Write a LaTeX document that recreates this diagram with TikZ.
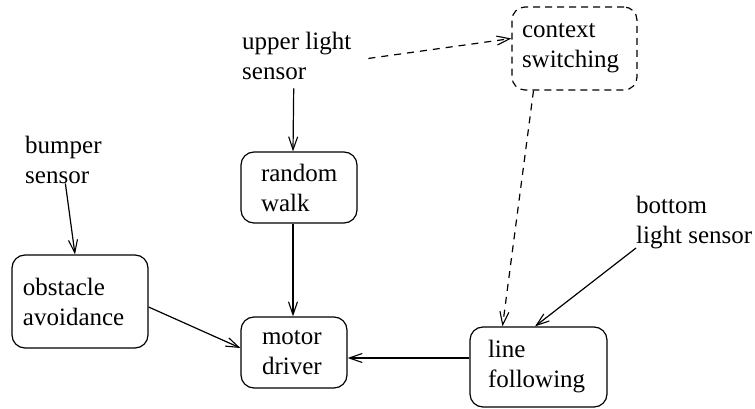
\documentclass[tikz,border=0pt]{standalone}
\usepackage{fontspec}
\setmainfont{Liberation Serif}
\usetikzlibrary{arrows.meta}
\begin{document}
\begin{tikzpicture}[x=1pt,y=-1pt,
  every node/.style={font=\fontsize{25}{30}\selectfont},
  lbl/.style={align=left,inner sep=0pt,anchor=base west},
  box/.style={draw,line width=1.2pt,rounded corners=13pt,align=left,inner ysep=0pt},
  dbox/.style={box,dash pattern=on 7pt off 5pt},
  conn/.style={line width=1.2pt,-{Straight Barb[length=13pt,width=9pt,line width=1.1pt]}},
  dconn/.style={conn,dash pattern=on 7pt off 6pt}]
\useasboundingbox (0,0) rectangle (755,409);
% sensors (base = last line)
\node[lbl] (usl) at (242,80) {upper light\\sensor};
\node[lbl] (bump) at (25,183) {bumper\\sensor};
\node[lbl] (bls) at (636,243) {bottom\\light sensor};
% boxes
\node[dbox,text width=105pt,inner xsep=10pt,minimum height=83pt] (ctx) at (574.5,48.5) {context\\switching};
\node[box,text width=76pt,inner xsep=20pt,minimum height=71pt] (rw) at (299,187.5) {random\\walk};
\node[box,text width=114pt,inner xsep=11pt,minimum height=93pt] (oa) at (80,301.5) {obstacle\\avoidance};
\node[box,text width=64pt,inner xsep=21pt,minimum height=71pt] (md) at (294,352.5) {motor\\driver};
\node[box,text width=101pt,inner xsep=18pt,minimum height=80pt] (lf) at (538.5,367) {line\\following};
% connectors
\draw[conn] ([shift={(-3,8)}]usl.south) -- ([shift={(-6,0)}]rw.north);
\draw[dconn] ([shift={(17,2)}]usl.east) -- ([shift={(0,-10)}]ctx.west);
\draw[dconn] ([shift={(-41,0)}]ctx.south) -- ([shift={(-36,0)}]lf.north);
\draw[conn] ([shift={(2,0)}]bump.south) -- ([shift={(-5,0)}]oa.north);
\draw[conn] ([shift={(-6,0)}]rw.south) -- ([shift={(-1,0)}]md.north);
\draw[conn] ([shift={(0,5.5)}]oa.east) -- ([shift={(0,-4.5)}]md.west);
\draw[conn] ([shift={(0,-9)}]lf.west) -- ([shift={(0,5.5)}]md.east);
\draw[conn] ([shift={(0,26)}]bls.west) -- ([shift={(-3.5,0)}]lf.north);
\end{tikzpicture}
\end{document}
